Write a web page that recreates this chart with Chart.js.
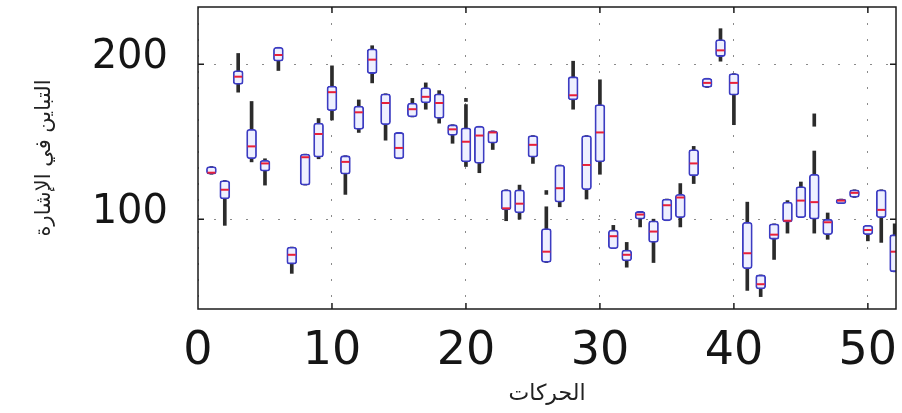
<!DOCTYPE html>
<html><head><meta charset="utf-8">
<script src="https://cdn.jsdelivr.net/npm/chart.js@4/dist/chart.umd.min.js"></script>
<style>html,body{margin:0;padding:0;background:#fff;}</style>
</head><body>
<canvas id="c" width="902" height="413"></canvas>
<script>
// Movement index (x) for each box
const movements = [1,2,3,4,5,6,7,8,9,10,11,12,13,14,15,16,17,18,19,20,21,22,23,24,25,26,27,28,29,30,31,32,33,34,35,36,37,38,39,40,41,42,43,44,45,46,47,48,49,50,51,52];
// Whisker ends, quartiles and medians (signal variance)
const whiskerLow  = [129,96,182,137,122,196,65,122,139,164,116,156,188,151,139,166,171,162,149,134,130,145,99,100,136,72,108,171,113,129,81,69,95,72,99,95,123,185,202,161,54,50,74,91,101,91,87,110,114,86,85,66];
const quartile1   = [129,113,187,139,131,202,71,122,140,170,129,158,194,161,139,166,175,165,154,137,136,149,106,104,140,72,111,177,119,137,81,73,100,85,99,101,128,185,205,180,68,55,87,98,101,100,90,110,114,90,101,66];
const medians     = [130,119,192,147,136,206,77,140,155,182,137,169,203,175,146,171,179,175,158,150,154,156,107,110,148,79,120,180,135,156,89,77,103,92,109,114,136,188,209,188,78,58,90,99,112,111,98,112,117,93,106,79];
const quartile3   = [134,125,196,158,138,211,82,142,162,186,141,173,210,181,156,175,185,181,161,159,160,157,119,119,154,94,135,192,154,174,93,80,105,99,113,116,145,191,216,194,98,64,97,111,121,129,100,113,119,96,119,90];
const whiskerHigh = [134,125,207,176,139,211,82,142,165,199,141,177,212,181,156,178,188,183,161,174,160,157,119,122,154,108,135,202,154,190,96,85,105,100,113,123,147,191,223,194,111,64,97,112,124,144,104,113,119,96,119,97];
// Outlier marks
const outlierX    = [20,26,46];
const outlierLow  = [176,116,160];
const outlierHigh = [178,118.5,168];
// Tick labels
const xTickValues = [0,10,20,30,40,50];
const yTickValues = [100,200];
const xTitle = 'الحركات';
const yTitle = 'التباين في الإشارة';

const whiskerData = movements.map((m,i)=>({x:m, y:[whiskerLow[i], whiskerHigh[i]]}));
const boxData = movements.map((m,i)=>({x:m, y:[quartile1[i], quartile3[i]]}));
const medianData = movements.map((m,i)=>({x:m, y:medians[i]}));
const outlierData = outlierX.map((m,i)=>({x:m, y:[outlierLow[i], outlierHigh[i]]}));

const framePlugin = {
  id:'frame',
  afterDatasetsDraw(chart){
    const {ctx, chartArea:a, scales:{x,y}} = chart;
    ctx.save();
    ctx.setLineDash([]);
    ctx.strokeStyle='#1c1c1c';
    ctx.lineWidth=1.5;
    ctx.strokeRect(a.left, a.top, a.right-a.left, a.bottom-a.top);
    ctx.beginPath();
    xTickValues.forEach(v=>{
      if (v<=x.min) return;
      const px = x.getPixelForValue(v);
      ctx.moveTo(px,a.bottom); ctx.lineTo(px,a.bottom-6);
      ctx.moveTo(px,a.top); ctx.lineTo(px,a.top+6);
    });
    yTickValues.forEach(v=>{
      const py = y.getPixelForValue(v);
      ctx.moveTo(a.left,py); ctx.lineTo(a.left+6,py);
      ctx.moveTo(a.right,py); ctx.lineTo(a.right-6,py);
    });
    ctx.stroke();
    ctx.restore();
  }
};

const tickFont = 'DejaVu Sans';
new Chart(document.getElementById('c'), {
  type:'bar',
  data:{
    datasets:[
      {type:'bar', label:'whiskers', data:whiskerData, grouped:false, barThickness:3,
       backgroundColor:'#2b2b2b', borderWidth:0, order:4},
      {type:'bar', label:'outliers', data:outlierData, grouped:false, barThickness:3,
       backgroundColor:'#2b2b2b', borderWidth:0, order:3},
      {type:'bar', label:'boxes', data:boxData, grouped:false, barThickness:10,
       backgroundColor:'#eef0ff', borderColor:'#3c3cc2', borderWidth:1.8, borderRadius:3,
       borderSkipped:false, order:2},
      {type:'scatter', label:'medians', data:medianData, pointStyle:'line', pointRadius:4,
       pointHoverRadius:4, borderColor:'#e8203a', backgroundColor:'#e8203a', pointBorderWidth:2,
       borderWidth:2, showLine:false, order:1}
    ]
  },
  options:{
    responsive:false,
    animation:false,
    layout:{padding:{top:7, right:0, left:0, bottom:0}},
    plugins:{legend:{display:false}, tooltip:{enabled:false}},
    scales:{
      x:{
        type:'linear', min:0, max:52.1, offset:false,
        afterBuildTicks:s=>{ s.ticks = xTickValues.map(v=>({value:v})); },
        afterFit:s=>{ s.height = 104; s.paddingLeft = 0; s.paddingRight = 0; },
        grid:{display:true, drawTicks:false, color:'#8a8a8a', lineWidth:1, offset:false, borderDash:[2,14]},
        border:{display:false, dash:[2,14]},
        ticks:{font:{family:tickFont, size:46}, color:'#151515', padding:15, maxRotation:0, autoSkip:false},
        title:{display:true, text:xTitle, font:{family:'DejaVu Sans', size:22}, color:'#222', padding:{top:6,bottom:6}}
      },
      y:{
        type:'linear', min:42, max:237,
        afterBuildTicks:s=>{ s.ticks = yTickValues.map(v=>({value:v})); },
        afterFit:s=>{ s.width = 198; s.paddingTop = 0; s.paddingBottom = 0; },
        grid:{display:true, drawTicks:false, color:'#8a8a8a', lineWidth:1, borderDash:[2,14]},
        border:{display:false, dash:[2,14]},
        ticks:{font:{family:tickFont, size:40}, color:'#151515', padding:30, labelOffset:-7},
        title:{display:true, text:yTitle, font:{family:'DejaVu Sans', size:21}, color:'#222', padding:{top:32,bottom:0}}
      }
    }
  },
  plugins:[framePlugin]
});
</script>
</body></html>
